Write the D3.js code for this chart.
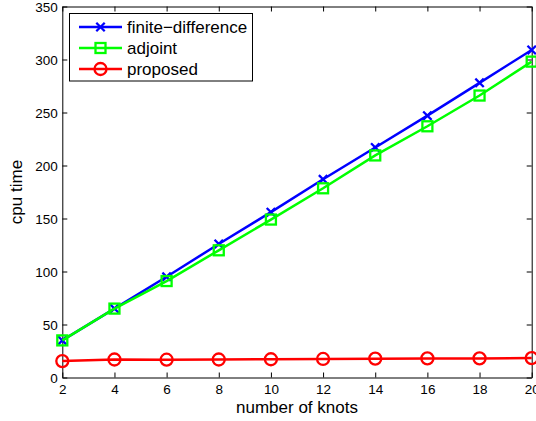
<!DOCTYPE html>
<html>
<head>
<meta charset="utf-8">
<script src="https://cdn.jsdelivr.net/npm/d3@7/dist/d3.min.js"></script>
<style>
  html, body { margin: 0; padding: 0; background: #fff; }
  svg { display: block; font-family: "Liberation Sans", Arial, sans-serif; }
</style>
</head>
<body>
<svg id="chart" width="536" height="421"></svg>
<script>
// Number of knots on the x axis
const knots = [2, 4, 6, 8, 10, 12, 14, 16, 18, 20];
// CPU time for each method
const finiteDifference = [35, 65, 95, 126, 156, 187, 217, 247, 278, 309];
const adjoint = [35, 65, 91, 120, 149, 178.5, 209.5, 237, 266, 298];
const proposed = [15.5, 17, 16.8, 17, 17.2, 17.5, 17.8, 18, 18, 18.3];
const seriesNames = ["finite\u2212difference", "adjoint", "proposed"];
const xTicks = [2, 4, 6, 8, 10, 12, 14, 16, 18, 20];
const yTicks = [0, 50, 100, 150, 200, 250, 300, 350];

const svg = d3.select("#chart");
const plotLeft = 62.3, plotRight = 531.7, plotTop = 6.5, plotBottom = 377.5;

const x = d3.scaleLinear().domain([2, 20]).range([plotLeft, plotRight]);
const y = d3.scaleLinear().domain([0, 350]).range([plotBottom, plotTop]);

const series = [
  { name: seriesNames[0], values: finiteDifference, color: "#0000ff", marker: "x" },
  { name: seriesNames[1], values: adjoint, color: "#00ff00", marker: "square" },
  { name: seriesNames[2], values: proposed, color: "#ff0000", marker: "circle" }
];

// Axes: bottom/left with labels, top/right ticks only (boxed plot, inward ticks)
const tickLen = 5;
const tickFont = 13.5;
svg.append("g").attr("transform", `translate(0,${plotBottom})`)
  .call(d3.axisBottom(x).tickValues(xTicks).tickSizeInner(-tickLen).tickSizeOuter(0).tickPadding(7))
  .call(g => g.selectAll("text").attr("font-size", tickFont).attr("fill", "#000"));
svg.append("g").attr("transform", `translate(${plotLeft},0)`)
  .call(d3.axisLeft(y).tickValues(yTicks).tickSizeInner(-tickLen).tickSizeOuter(0).tickPadding(4.5))
  .call(g => g.selectAll("text").attr("font-size", tickFont).attr("fill", "#000").attr("dy", "0.38em"));
svg.append("g").attr("transform", `translate(0,${plotTop})`)
  .call(d3.axisTop(x).tickValues(xTicks).tickSizeInner(-tickLen).tickSizeOuter(0).tickFormat(""));
svg.append("g").attr("transform", `translate(${plotRight},0)`)
  .call(d3.axisRight(y).tickValues(yTicks).tickSizeInner(-tickLen).tickSizeOuter(0).tickFormat(""));
svg.selectAll(".domain, .tick line").attr("stroke", "#000").attr("stroke-width", 1);

// Axis titles
svg.append("text").attr("x", (plotLeft + plotRight) / 2).attr("y", 412.5)
  .attr("text-anchor", "middle").attr("font-size", 17).text("number of knots");
svg.append("text").attr("transform", `translate(22,${(plotTop + plotBottom) / 2}) rotate(-90)`)
  .attr("text-anchor", "middle").attr("font-size", 17).text("cpu time");

function drawMarker(g, type, cx, cy, color) {
  if (type === "x") {
    const s = 4.2;
    g.append("path").attr("d", `M${cx - s},${cy - s}L${cx + s},${cy + s}M${cx - s},${cy + s}L${cx + s},${cy - s}`)
      .attr("stroke", color).attr("stroke-width", 2.3).attr("fill", "none");
  } else if (type === "square") {
    const s = 5;
    g.append("rect").attr("x", cx - s).attr("y", cy - s).attr("width", 2 * s).attr("height", 2 * s)
      .attr("stroke", color).attr("stroke-width", 2.3).attr("fill", "none");
  } else {
    g.append("circle").attr("cx", cx).attr("cy", cy).attr("r", 6)
      .attr("stroke", color).attr("stroke-width", 2.3).attr("fill", "none");
  }
}

const line = d3.line().x(d => x(d[0])).y(d => y(d[1]));
series.forEach(s => {
  const pts = knots.map((k, i) => [k, s.values[i]]);
  const g = svg.append("g");
  g.append("path").attr("d", line(pts)).attr("fill", "none")
    .attr("stroke", s.color).attr("stroke-width", 2.5);
  pts.forEach(p => drawMarker(g, s.marker, x(p[0]), y(p[1]), s.color));
});

// Legend
const lg = svg.append("g");
lg.append("rect").attr("x", 69.5).attr("y", 13.5).attr("width", 183).attr("height", 67.5)
  .attr("fill", "#fff").attr("stroke", "#000").attr("stroke-width", 1);
series.forEach((s, i) => {
  const cy = 27 + i * 21;
  lg.append("line").attr("x1", 79).attr("x2", 122).attr("y1", cy).attr("y2", cy)
    .attr("stroke", s.color).attr("stroke-width", 2.5);
  drawMarker(lg, s.marker, 100.5, cy, s.color);
  lg.append("text").attr("x", 127).attr("y", cy + 6).attr("font-size", 17).text(s.name);
});
</script>
</body>
</html>
